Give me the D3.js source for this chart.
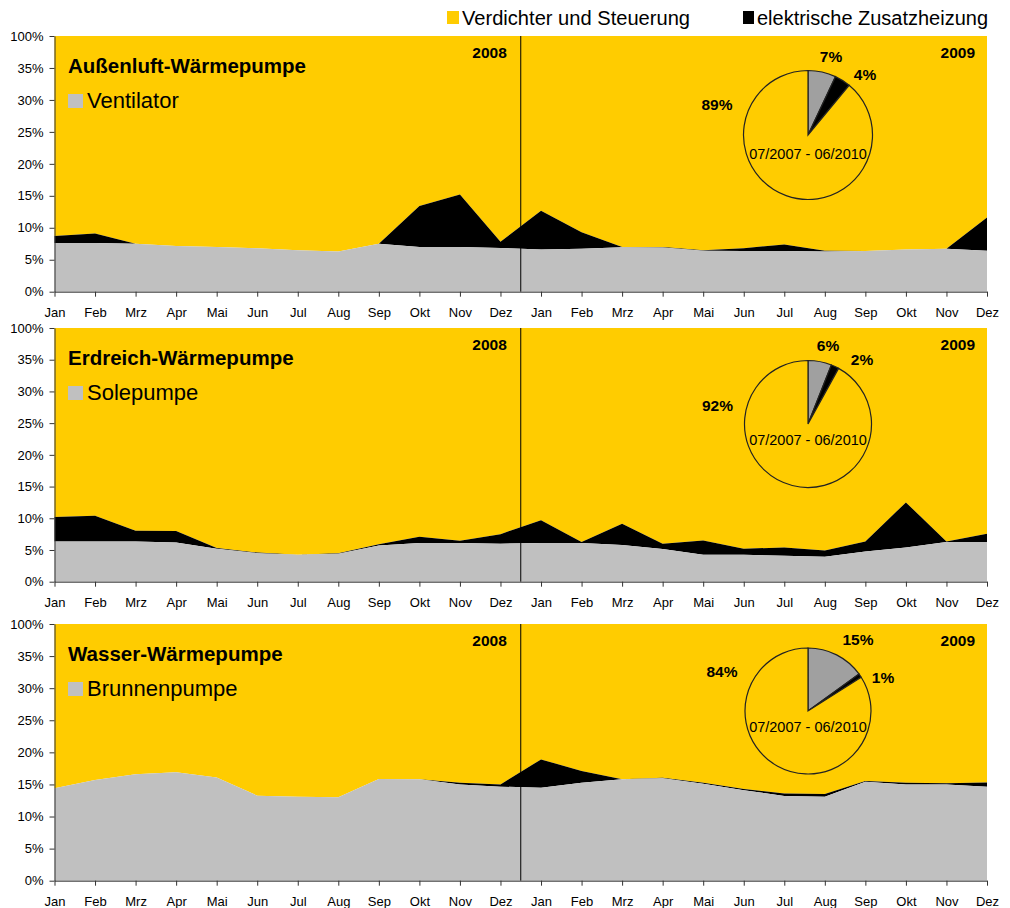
<!DOCTYPE html>
<html><head><meta charset="utf-8">
<script src="https://cdn.jsdelivr.net/npm/d3@7"></script>
<style>
body{margin:0;background:#fff;}
text{font-family:"Liberation Sans", Arial, sans-serif;fill:#000;}
</style>
</head><body>
<svg id="chart" width="1010" height="908"></svg>
<script>
// ---------------- DATA ----------------
const months = ["Jan","Feb","Mrz","Apr","Mai","Jun","Jul","Aug","Sep","Okt","Nov","Dez"];
const monthLabels = months.concat(months);          // Jan 2008 ... Dez 2009
const years = ["2008","2009"];
const yTickValues = [0,5,10,15,20,25,30,35,100];
const seriesNames = ["Verdichter und Steuerung","elektrische Zusatzheizung"];
const panelTitles = ["Außenluft-Wärmepumpe","Erdreich-Wärmepumpe","Wasser-Wärmepumpe"];
const auxNames = ["Ventilator","Solepumpe","Brunnenpumpe"];
const pieLabelText = "07/2007 - 06/2010";

// share of auxiliary drive (grey), % per month
const auxAir    = [7.6,7.6,7.5,7.15,7.0,6.8,6.5,6.3,7.5,7.0,7.0,6.85, 6.6,6.7,6.95,6.9,6.4,6.35,6.35,6.3,6.35,6.6,6.7,6.4];
const auxGround = [6.35,6.35,6.35,6.2,5.2,4.5,4.25,4.4,5.7,6.1,6.1,6.0, 6.1,6.1,5.8,5.15,4.25,4.25,4.1,3.95,4.75,5.4,6.25,6.25];
const auxWater  = [14.4,15.7,16.6,16.9,16.1,13.25,13.1,13.0,15.85,15.8,15.0,14.65, 14.5,15.25,15.8,15.95,15.1,14.1,13.2,13.1,15.4,15.0,15.0,14.65];
// share of electric auxiliary heater (black), % per month
const heatAir    = [1.1,1.5,0,0,0,0,0,0,0,6.4,8.2,0.95, 6.05,2.6,0.05,0.1,0.1,0.45,1.05,0.1,0,0,0,5.2];
const heatGround = [3.85,4.05,1.7,1.8,0.1,0.1,0,0.1,0.2,1.0,0.35,1.5, 3.6,0.15,3.35,0.85,2.25,0.95,1.3,0.95,1.6,7.1,0.1,1.3];
const heatWater  = [0,0,0,0,0,0,0,0,0,0,0.25,0.35, 4.4,1.85,0,0.1,0.15,0.2,0.4,0.4,0.15,0.25,0.2,0.65];
// pie shares: aux, heater, compressor (%)
const pieAir    = [7,4,89];
const pieGround = [6,2,92];
const pieWater  = [15,1,84];

// ---------------- LAYOUT ----------------
const COLORS = {comp:"#FFCC00", heat:"#000000", aux:"#C0C0C0", pieAux:"#A0A0A0", axis:"#333"};
const xLeft = 54.5, xRight = 987;
const panelBoxes = [{top:36,bottom:291.7},{top:328,bottom:581.7},{top:624,bottom:880.7}];
const pieCenters = [{cx:808,cy:135,r:64.5},{cx:808,cy:424,r:63.5},{cx:808,cy:711,r:63}];
const pieLabelOffsets = [
  [[23,-78],[57,-60.5],[-91,-30],[0,18.5]],
  [[20,-78],[54,-64],[-90.5,-18.5],[0,15.7]],
  [[50,-71],[75,-33.5],[-86,-39],[0,15.7]]
];

const svg = d3.select("#chart");
const panels = [
  {title:panelTitles[0], aux:auxNames[0], auxV:auxAir, heatV:heatAir, pie:pieAir},
  {title:panelTitles[1], aux:auxNames[1], auxV:auxGround, heatV:heatGround, pie:pieGround},
  {title:panelTitles[2], aux:auxNames[2], auxV:auxWater, heatV:heatWater, pie:pieWater}
];

// ---------------- LEGEND ----------------
const leg = svg.append("g");
leg.append("rect").attr("x",447).attr("y",11).attr("width",12).attr("height",13).attr("fill",COLORS.comp);
leg.append("text").attr("x",462).attr("y",25).attr("font-size",20).attr("textLength",228).attr("lengthAdjust","spacingAndGlyphs").text(seriesNames[0]);
leg.append("rect").attr("x",743).attr("y",11).attr("width",11).attr("height",13).attr("fill",COLORS.heat);
leg.append("text").attr("x",757).attr("y",25).attr("font-size",20).attr("textLength",231).attr("lengthAdjust","spacingAndGlyphs").text(seriesNames[1]);

const x = d3.scaleLinear().domain([0,23]).range([xLeft,xRight]);

panels.forEach((p,pi)=>{
  const box = panelBoxes[pi];
  const step = (box.bottom-box.top)/8;
  const y = d3.scaleLinear().domain([0,35,100]).range([box.bottom, box.bottom-7*step, box.top]);
  const g = svg.append("g");

  const rows = d3.range(24).map(i=>({i, aux:p.auxV[i], heat:p.heatV[i], comp:100-p.auxV[i]-p.heatV[i]}));
  const stack = d3.stack().keys(["aux","heat","comp"])(rows);
  const area = d3.area().x(d=>x(d.data.i)).y0(d=>y(d[0])).y1(d=>y(d[1]));
  const fills = {aux:COLORS.aux, heat:COLORS.heat, comp:COLORS.comp};
  // draw comp first (background), then heat, then aux
  [2,1,0].forEach(k=>{
    g.append("path").datum(stack[k]).attr("d",area).attr("fill",fills[stack[k].key]).attr("stroke","none");
  });

  // year divider
  g.append("line").attr("x1",x(11.5)).attr("x2",x(11.5)).attr("y1",box.top).attr("y2",box.bottom)
    .attr("stroke","#000").attr("stroke-width",1);

  // year labels
  [[years[0],x(11.5)-14],[years[1],xRight-12]].forEach(([t,xx])=>{
    g.append("text").attr("x",xx).attr("y",box.top+22).attr("text-anchor","end")
      .attr("font-size",15.5).attr("font-weight","bold").text(t);
  });

  // axes
  const yAxis = d3.axisLeft(y).tickValues(yTickValues).tickFormat(d=>d+"%").tickSize(5).tickSizeOuter(0).tickPadding(6);
  const ya = g.append("g").attr("transform",`translate(${xLeft},0)`).call(yAxis);
  ya.selectAll("text").attr("font-size",13).style("font-family",'"Liberation Sans", Arial, sans-serif').attr("fill","#000");
  ya.selectAll("line").attr("stroke",COLORS.axis);
  ya.select(".domain").attr("stroke",COLORS.axis);

  const xAxis = d3.axisBottom(x).tickValues(d3.range(24)).tickFormat(i=>monthLabels[i]).tickSize(5).tickSizeOuter(0).tickPadding(11);
  const xa = g.append("g").attr("transform",`translate(0,${box.bottom})`).call(xAxis);
  xa.selectAll("text").attr("font-size",13).style("font-family",'"Liberation Sans", Arial, sans-serif').attr("fill","#000");
  xa.selectAll("line").attr("stroke",COLORS.axis);
  xa.select(".domain").attr("stroke",COLORS.axis);

  // titles
  g.append("text").attr("x",68).attr("y",box.top+37).attr("font-size",20.5).attr("font-weight","bold").text(p.title);
  g.append("rect").attr("x",68).attr("y",box.top+58).attr("width",15).attr("height",14).attr("fill",COLORS.aux);
  g.append("text").attr("x",87).attr("y",box.top+72).attr("font-size",22).text(p.aux);

  // pie
  const pc = pieCenters[pi];
  const pie = d3.pie().sort(null).value(d=>d)(p.pie);
  const arc = d3.arc().innerRadius(0).outerRadius(pc.r);
  const pg = g.append("g").attr("transform",`translate(${pc.cx},${pc.cy})`);
  const pfill = [COLORS.pieAux, COLORS.heat, COLORS.comp];
  pg.selectAll("path").data(pie).join("path").attr("d",arc)
    .attr("fill",(d,i)=>pfill[i]).attr("stroke","#222").attr("stroke-width",1.2);
  const offs = pieLabelOffsets[pi];
  pie.forEach((d,i)=>{
    pg.append("text").attr("x",offs[i][0]).attr("y",offs[i][1]).attr("dy","0.35em")
      .attr("text-anchor","middle").attr("font-size",15.5).attr("font-weight","bold").text(d.data+"%");
  });
  pg.append("text").attr("x",offs[3][0]).attr("y",offs[3][1]).attr("dy","0.35em")
    .attr("text-anchor","middle").attr("font-size",14.5).text(pieLabelText);
});
</script>
</body></html>
